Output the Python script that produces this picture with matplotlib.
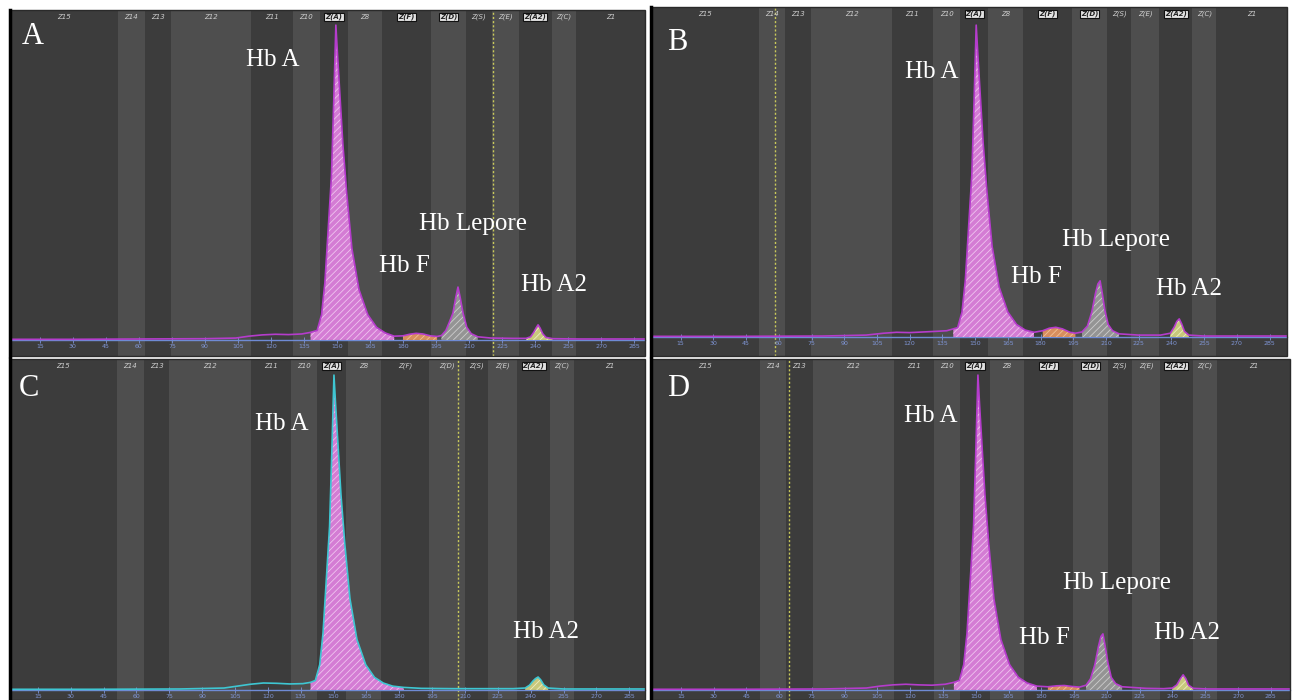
import numpy as np
import matplotlib.pyplot as plt
from matplotlib.patches import Rectangle

# figure size in pixels
W, H = 1293, 700

# zone names along the capillary (left to right)
zone_names = ["Z15", "Z14", "Z13", "Z12", "Z11", "Z10", "Z(A)", "Z8", "Z(F)",
              "Z(D)", "Z(S)", "Z(E)", "Z(A2)", "Z(C)", "Z1"]

# zone edges (migration units)
zones_a = [1.4, 50.5, 62.7, 74.5, 110.9, 130, 142.3, 155, 170.5, 192.7, 208.6, 220.5, 232.7, 247.7, 258.6, 290]
zones_b = [1.4, 50.9, 62.8, 74.8, 111.9, 130.7, 143.1, 156, 172, 194.5, 210.6, 221.6, 234.4, 249.5, 260.6, 293]
zones_c = [2.3, 51.1, 63.5, 74.9, 112.3, 130.6, 142.5, 155.7, 171.7, 193.6, 210, 220.5, 233.8, 248.9, 259.8, 292.2]
zones_d = [1.4, 51.3, 63.2, 75.5, 112.6, 130.9, 142.8, 156.5, 172.1, 194.5, 210.5, 221.5, 234.3, 249.4, 260.4, 293.8]

boxed_abd = ["Z(A)", "Z(F)", "Z(D)", "Z(A2)"]
boxed_c = ["Z(A)", "Z(A2)"]

x_ticks = list(range(15, 286, 15))

# electrophoresis traces (% of the Hb A peak)
xa = [1.4, 30, 60, 90, 104, 110, 116, 122, 128, 134, 138, 141, 143, 144.5, 146, 147.5, 148.5, 149.5,
      150.3, 151.5, 152.7, 154.5, 156.8, 160, 164, 168, 172, 176, 180, 183, 186, 189, 192.5, 195.5,
      197.5, 199.5, 201, 202.7, 204, 205, 206, 207.3, 209, 211, 214, 220, 230, 236, 238, 239.5,
      240.5, 241.4, 242.3, 243.5, 245, 248, 260, 290]
ya = [0.2, 0.2, 0.3, 0.4, 0.6, 1.2, 1.6, 1.8, 1.7, 1.9, 2.4, 3, 8, 18, 35, 52, 75, 100,
      90, 76, 62, 46, 29, 16, 8, 4, 2.2, 1.2, 1.3, 1.8, 2.1, 1.9, 1.3, 1.1,
      1.4, 3, 5.5, 8.5, 13.5, 16.8, 13.5, 8.5, 4, 2, 1, 0.6, 0.5, 0.5, 1.0, 2.5,
      3.8, 4.8, 3.8, 2.0, 0.8, 0.4, 0.3, 0.3]

xb = [1.4, 40, 80, 100, 108, 114, 120, 126, 132, 137, 140, 142, 144, 145.5, 147, 148.5, 149.5, 150.5,
      151.3, 152.5, 153.7, 155.5, 157.8, 161, 165, 169, 173, 177, 181, 184, 187, 190, 193.5, 196,
      199, 201.5, 203.5, 205.2, 206.3, 207.3, 208.3, 209.5, 211, 213, 216, 225, 235, 239.5,
      241.3, 242.5, 243.6, 244.7, 246, 248, 255, 293]
yb = [0.2, 0.2, 0.3, 0.6, 1.2, 1.5, 1.4, 1.6, 1.8, 2.0, 2.6, 3, 8, 18, 35, 52, 75, 100,
      90, 76, 62, 46, 29, 16, 8, 4, 2.2, 1.5, 2.0, 2.8, 3.1, 2.6, 1.5, 1.2,
      1.6, 3.5, 8, 14, 17, 18, 14, 8.5, 4, 2, 1, 0.6, 0.6, 1.2,
      3.2, 5.0, 5.8, 4.2, 1.8, 0.6, 0.3, 0.3]

xc = [2.3, 40, 80, 100, 106, 112, 118, 124, 130, 136, 139.5, 141.7, 143.7, 145.2, 146.7, 148.2, 149.2, 150.2,
      151.0, 152.2, 153.4, 155.2, 157.5, 160.7, 164.7, 168.7, 172.7, 177, 182, 190, 205, 220, 232,
      237.5, 239.5, 241, 242.2, 243.4, 244.6, 246, 248, 255, 292]
yc = [0.2, 0.2, 0.3, 0.6, 1.2, 1.8, 2.2, 2.1, 1.9, 2.0, 2.4, 3, 8, 18, 35, 52, 75, 100,
      90, 76, 62, 46, 29, 16, 8, 4, 2.2, 1.2, 0.8, 0.5, 0.4, 0.4, 0.4,
      0.6, 1.5, 2.8, 3.6, 4.1, 3.2, 1.6, 0.6, 0.3, 0.3]

xd = [1.4, 40, 80, 100, 106, 112, 118, 124, 130, 136, 140, 142.5, 144.5, 146, 147.5, 149, 150, 151,
      151.8, 153, 154.2, 156, 158.3, 161.5, 165.5, 169.5, 173.5, 178, 183, 187, 190.5, 194, 197.5,
      200.5, 202.5, 204.5, 206.2, 207.3, 208.2, 209.2, 210.5, 212, 214, 217, 228, 236, 240, 242,
      243.6, 244.9, 246.1, 247.4, 249.5, 256, 294]
yd = [0.2, 0.2, 0.3, 0.6, 1.2, 1.6, 1.8, 1.6, 1.5, 1.8, 2.4, 3, 8, 18, 35, 52, 75, 100,
      90, 76, 62, 46, 29, 16, 8, 4, 2.2, 1.2, 1.0, 1.3, 1.4, 1.1, 0.9,
      1.5, 3.5, 8, 14, 17, 17.8, 14, 8.5, 4, 2, 1, 0.5, 0.4, 0.6, 1.6,
      3.5, 4.8, 3.6, 1.5, 0.5, 0.3, 0.3]

# peak fill colours (face, hatch)
fill_colors = {"A": ("#d47cd4", "#efc4ef"), "F": ("#d88e5e", "#f0c098"),
               "Lepore": ("#949494", "#cdcdcd"), "A2": ("#c8c87c", "#eeeec0")}

fills_a = [("A", 138, 176), ("F", 180, 195.5), ("Lepore", 197.5, 214), ("A2", 236, 248)]
fills_b = [("A", 140, 177), ("F", 181, 196), ("Lepore", 199, 216), ("A2", 239.5, 248)]
fills_c = [("A", 139.5, 182), ("A2", 237.5, 248)]
fills_d = [("A", 140, 178), ("F", 183, 197.5), ("Lepore", 200.5, 217), ("A2", 240, 249.5)]

panels = [
    dict(letter="A", box=(10, 10, 645, 356), xlim=(1.4, 290), ylim=(-5.1, 104.8),
         x=xa, y=ya, zones=zones_a, boxed=boxed_abd, dotted=221, line="#b53ccc", fills=fills_a,
         letter_pos=(33, 37),
         labels=[("Hb A", 273, 60), ("Hb F", 404, 266), ("Hb Lepore", 473, 224), ("Hb A2", 554, 285)]),
    dict(letter="B", box=(651, 7, 1287, 356), xlim=(1.4, 293), ylim=(-6.1, 105.8),
         x=xb, y=yb, zones=zones_b, boxed=boxed_abd, dotted=58.3, line="#b53ccc", fills=fills_b,
         letter_pos=(677, 43),
         labels=[("Hb A", 932, 72), ("Hb F", 1036, 277), ("Hb Lepore", 1116, 240), ("Hb A2", 1189, 289)]),
    dict(letter="C", box=(10, 359, 645, 700), xlim=(2.3, 292.2), ylim=(-3.2, 105.1),
         x=xc, y=yc, zones=zones_c, boxed=boxed_c, dotted=206.8, line="#3ec6d2", fills=fills_c,
         letter_pos=(29, 389),
         labels=[("Hb A", 282, 424), ("Hb A2", 546, 632)]),
    dict(letter="D", box=(651, 359, 1290, 700), xlim=(1.4, 293.8), ylim=(-3.2, 105.1),
         x=xd, y=yd, zones=zones_d, boxed=boxed_abd, dotted=64.5, line="#b53ccc", fills=fills_d,
         letter_pos=(678, 389),
         labels=[("Hb A", 931, 416), ("Hb F", 1044, 638), ("Hb Lepore", 1117, 583), ("Hb A2", 1187, 633)]),
]

plt.rcParams['hatch.linewidth'] = 0.6

fig = plt.figure(figsize=(W / 100, H / 100), dpi=100)
fig.patch.set_facecolor("white")


def fig_xy(px, py):
    return px / W, 1 - py / H


for p in panels:
    x0, y0, x1, y1 = p["box"]
    ax = fig.add_axes([x0 / W, 1 - y1 / H, (x1 - x0) / W, (y1 - y0) / H])
    ax.set_xlim(*p["xlim"])
    ax.set_ylim(*p["ylim"])
    ax.set_facecolor("#3c3c3c")

    # alternating zone bands and zone names
    edges = p["zones"]
    ytxt = 1 - 7 / (y1 - y0)
    for i, name in enumerate(zone_names):
        lo, hi = edges[i], edges[i + 1]
        ax.axvspan(lo, hi, color="#3c3c3c" if i % 2 == 0 else "#4e4e4e", lw=0, zorder=0)
        if name in p["boxed"]:
            ax.text((lo + hi) / 2, ytxt, name, transform=ax.get_xaxis_transform(),
                    ha="center", va="center", fontsize=5, style="italic", color="#222222",
                    fontweight="bold",
                    bbox=dict(boxstyle="square,pad=0.15", fc="#e2e2e2", ec="#111111", lw=0.8))
        else:
            ax.text((lo + hi) / 2, ytxt, name, transform=ax.get_xaxis_transform(),
                    ha="center", va="center", fontsize=5, style="italic", color="#cfcfcf")

    ax.axvline(p["dotted"], color="#c9c95a", ls=(0, (1.5, 1.5)), lw=1, zorder=1)

    x = np.array(p["x"])
    y = np.array(p["y"])
    for key, a, b in p["fills"]:
        fc, hc = fill_colors[key]
        mask = (x >= a) & (x <= b)
        ax.fill_between(x, y, 0, where=mask, facecolor=fc, edgecolor=hc,
                        linewidth=0, hatch="/////", zorder=3)
    ax.plot(x, y, color=p["line"], lw=1.2, zorder=4)

    # bottom axis sits on the baseline
    for s in ["left", "right", "top"]:
        ax.spines[s].set_visible(False)
    ax.spines["bottom"].set_position(("data", 0))
    ax.spines["bottom"].set_color("#6f8bd4")
    ax.spines["bottom"].set_linewidth(1.0)
    ax.set_xticks(x_ticks)
    ax.set_yticks([])
    ax.tick_params(axis="x", direction="inout", length=4, width=0.6, colors="#7f95d5",
                   labelsize=4.5, pad=1)

    # panel frame with dark left edge
    ax.add_patch(Rectangle((0, 0), 1, 1, transform=ax.transAxes, fill=False,
                           ec="#2a2a2a", lw=1.0, zorder=6, clip_on=False))
    ax.plot([0, 0], [0, 1], transform=ax.transAxes, color="black", lw=2.5, zorder=7, clip_on=False)

    lx, ly = fig_xy(*p["letter_pos"])
    fig.text(lx, ly, p["letter"], ha="center", va="center", color="white",
             fontsize=22, family="Liberation Serif")
    for txt, tx, ty in p["labels"]:
        fx, fy = fig_xy(tx, ty)
        fig.text(fx, fy, txt, ha="center", va="center", color="white",
                 fontsize=18, family="Liberation Serif")

fig.savefig("out.png", dpi=100)
